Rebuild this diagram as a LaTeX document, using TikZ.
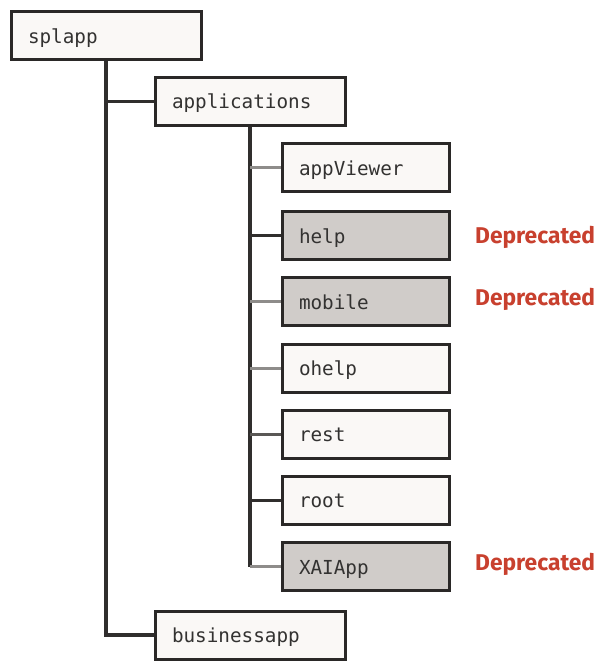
\documentclass[tikz,border=0pt]{standalone}
\usepackage{fontspec}
\setmainfont{DejaVu Sans}
\newfontfamily\boxmono{DejaVu Sans Mono}
\newfontfamily\deprfont{Fira Sans}
\definecolor{boxline}{HTML}{2A2827}
\definecolor{boxfill}{HTML}{FAF8F6}
\definecolor{boxtext}{HTML}{333231}
\definecolor{depfill}{HTML}{D0CCC9}
\definecolor{deptext}{HTML}{C8402E}
\definecolor{linedark}{HTML}{302E2D}
\definecolor{linemid}{HTML}{5A5856}
\definecolor{linelight}{HTML}{8E8C8A}
\tikzset{
  dirbox/.style={draw=boxline, line width=3pt, fill=boxfill, minimum height=48pt,
    inner xsep=0pt, inner ysep=0pt, align=left, text height=17.8pt, text depth=2.2pt,
    text=boxtext, font=\boxmono\fontsize{19.3}{21}\selectfont},
  topbox/.style={dirbox, text width=156pt, minimum width=190pt},
  subbox/.style={dirbox, text width=133pt, minimum width=167pt},
  olddir/.style={fill=depfill},
  deplabel/.style={text=deptext, font=\deprfont\bfseries\fontsize{22.8}{24}\selectfont, inner sep=0pt},
  trunk/.style={draw=linedark, line width=3.4pt},
  twigdark/.style={draw=linedark, line width=3pt},
  twigmid/.style={draw=linemid, line width=3pt},
  twiglight/.style={draw=linelight, line width=3pt},
}
\begin{document}
\begin{tikzpicture}[x=1pt,y=-1pt]
\useasboundingbox (0,0) rectangle (599,661);
\node[topbox] (splapp) at (106,35.5) {splapp};
\node[topbox] (applications) at (250,101) {applications};
\node[topbox] (businessapp) at (250,635) {businessapp};
\node[subbox] (appviewer) at (365.5,167.5) {appViewer};
\node[subbox, olddir] (help) at (365.5,235.5) {help};
\node[subbox, olddir] (mobile) at (365.5,301.5) {mobile};
\node[subbox] (ohelp) at (365.5,368) {ohelp};
\node[subbox] (rest) at (365.5,434) {rest};
\node[subbox] (root) at (365.5,500) {root};
\node[subbox, olddir] (xaiapp) at (365.5,566.5) {XAIApp};
\draw[trunk] (splapp.south) |- (businessapp.west);
\draw[twigdark] (splapp.south |- applications.west) -- (applications.west);
\draw[trunk] (applications.south) -- (applications.south |- xaiapp.west);
\draw[twiglight] (applications.south |- appviewer.west) -- (appviewer.west);
\draw[twigdark] (applications.south |- help.west) -- (help.west);
\draw[twiglight] (applications.south |- mobile.west) -- (mobile.west);
\draw[twiglight] (applications.south |- ohelp.west) -- (ohelp.west);
\draw[twigmid] (applications.south |- rest.west) -- (rest.west);
\draw[twigdark] (applications.south |- root.west) -- (root.west);
\draw[twiglight] (applications.south |- xaiapp.west) -- (xaiapp.west);
\node[deplabel, anchor=west] (dephelp) at (475,237) {Deprecated};
\node[deplabel, anchor=west] (depmobile) at (475,299) {Deprecated};
\node[deplabel, anchor=west] (depxai) at (475,564) {Deprecated};
\end{tikzpicture}
\end{document}
